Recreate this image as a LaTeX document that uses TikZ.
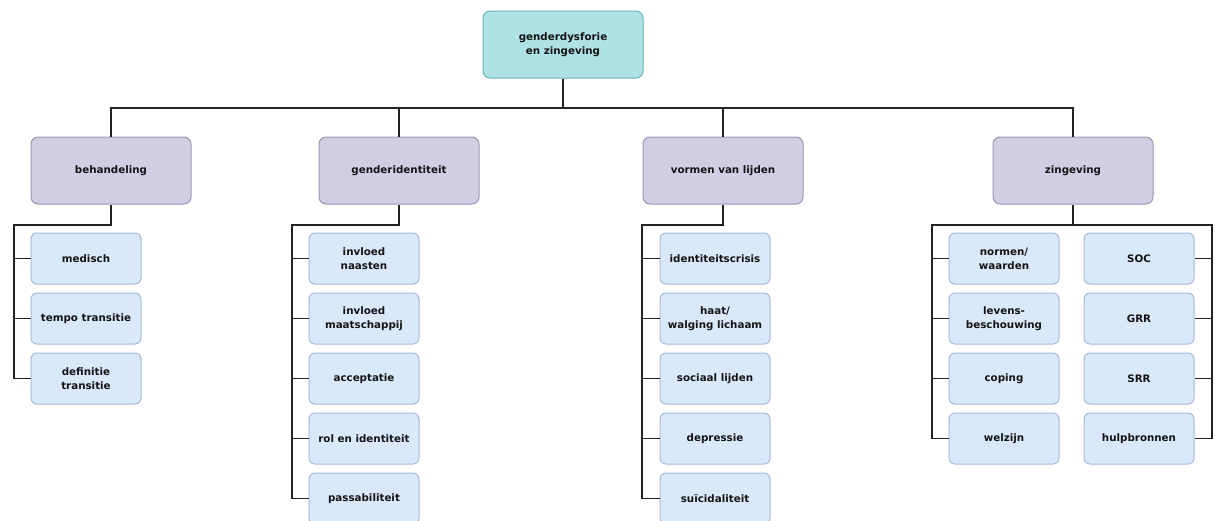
\documentclass[tikz,border=0pt]{standalone}
\usepackage{fontspec}
\setsansfont{DejaVu Sans}
\usepackage{xcolor}
\usetikzlibrary{positioning}

\definecolor{rootfill}{HTML}{AEE2E4}
\definecolor{rootline}{HTML}{72B0B3}
\definecolor{catfill}{HTML}{D0CEE2}
\definecolor{catline}{HTML}{9A97B5}
\definecolor{leaffill}{HTML}{DAE8FC}
\definecolor{leafline}{HTML}{A5BAD6}
\definecolor{linkcol}{HTML}{222222}

\tikzset{
  every node/.style={font=\sffamily\bfseries\fontsize{10.3}{14}\selectfont, align=center, text=black!92},
  rootbox/.style={draw=rootline, fill=rootfill, rounded corners=7pt, line width=1pt,
    minimum width=160pt, minimum height=67pt, inner sep=2pt},
  catbox/.style={draw=catline, fill=catfill, rounded corners=7pt, line width=1pt,
    minimum width=160pt, minimum height=67pt, inner sep=2pt},
  leafbox/.style={draw=leafline, fill=leaffill, rounded corners=6pt, line width=1pt,
    minimum width=110pt, minimum height=51pt, inner sep=1pt},
  link/.style={draw=linkcol, line width=1.9pt}
}

\begin{document}
\begin{tikzpicture}[x=1pt, y=-1pt, node distance=8pt]
  \useasboundingbox (0,0) rectangle (1215,520);

  % top
  \node (root) [rootbox] at (563,44.5) {genderdysforie\\en zingeving};
  \node (beh) [catbox] at (111,170.5) {behandeling};
  \node (gen) [catbox] at (399,170.5) {genderidentiteit};
  \node (vor) [catbox] at (723,170.5) {vormen van lijden};
  \node (zin) [catbox] at (1073,170.5) {zingeving};

  \coordinate (bar) at (563,108);
  \draw[link] (root) -- (bar);
  \draw[link] (beh.north) |- (bar) -| (zin.north);
  \draw[link] (gen.north) -- (gen.north |- bar);
  \draw[link] (vor.north) -- (vor.north |- bar);

  % behandeling
  \node (b1) [leafbox] at (86,258.5) {medisch};
  \node (b2) [leafbox, below=of b1] {tempo transitie};
  \node (b3) [leafbox, below=of b2] {definitie\\transitie};
  \coordinate (brail) at (14,225);
  \draw[link] (beh.south) |- (brail) |- (b3.west);
  \foreach \i in {1,2}
    \draw[link] (brail |- b\i.west) -- (b\i.west);

  % genderidentiteit
  \node (g1) [leafbox] at (364,258.5) {invloed\\naasten};
  \node (g2) [leafbox, below=of g1] {invloed\\maatschappij};
  \node (g3) [leafbox, below=of g2] {acceptatie};
  \node (g4) [leafbox, below=of g3] {rol en identiteit};
  \node (g5) [leafbox, below=of g4] {passabiliteit};
  \coordinate (grail) at (292,225);
  \draw[link] (gen.south) |- (grail) |- (g5.west);
  \foreach \i in {1,...,4}
    \draw[link] (grail |- g\i.west) -- (g\i.west);

  % vormen van lijden
  \node (v1) [leafbox] at (715,258.5) {identiteitscrisis};
  \node (v2) [leafbox, below=of v1] {haat/\\walging lichaam};
  \node (v3) [leafbox, below=of v2] {sociaal lijden};
  \node (v4) [leafbox, below=of v3] {depressie};
  \node (v5) [leafbox, below=of v4] {suïcidaliteit};
  \coordinate (vrail) at (642,225);
  \draw[link] (vor.south) |- (vrail) |- (v5.west);
  \foreach \i in {1,...,4}
    \draw[link] (vrail |- v\i.west) -- (v\i.west);

  % zingeving
  \node (z1) [leafbox] at (1004,258.5) {normen/\\waarden};
  \node (z2) [leafbox, below=of z1] {levens-\\beschouwing};
  \node (z3) [leafbox, below=of z2] {coping};
  \node (z4) [leafbox, below=of z3] {welzijn};
  \node (r1) [leafbox] at (1139,258.5) {SOC};
  \node (r2) [leafbox, below=of r1] {GRR};
  \node (r3) [leafbox, below=of r2] {SRR};
  \node (r4) [leafbox, below=of r3] {hulpbronnen};
  \coordinate (zl) at (932,225);
  \coordinate (zr) at (1212,225);
  \draw[link] (zin.south) -- (zin.south |- zl);
  \draw[link] (z4.west) -| (zl) -- (zr) |- (r4.east);
  \foreach \i in {1,2,3} {
    \draw[link] (zl |- z\i.west) -- (z\i.west);
    \draw[link] (zr |- r\i.east) -- (r\i.east);
  }
\end{tikzpicture}
\end{document}
